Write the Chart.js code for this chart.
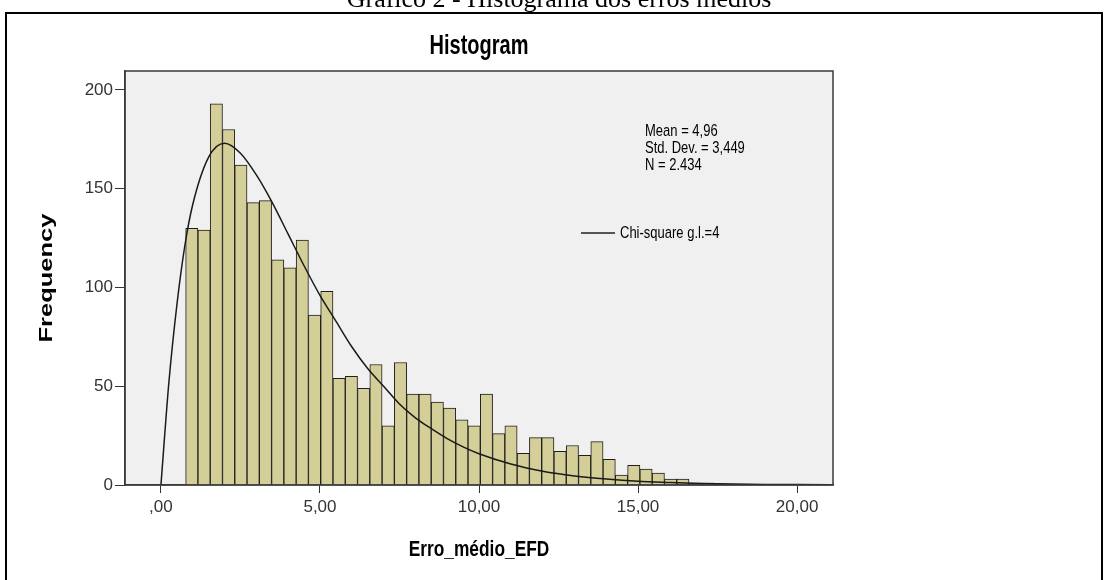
<!DOCTYPE html>
<html>
<head>
<meta charset="utf-8">
<script src="https://cdn.jsdelivr.net/npm/chart.js@4.4.1/dist/chart.umd.min.js"></script>
<style>
  html, body { margin: 0; padding: 0; background: #fff; }
  canvas { display: block; }
</style>
</head>
<body>
<canvas id="chart" width="1107" height="580"></canvas>
<script>
const caption = 'Gráfico 2 - Histograma dos erros médios';
const chartTitle = 'Histogram';
const xTitle = 'Erro_médio_EFD';
const yTitle = 'Frequency';
const statLines = ['Mean = 4,96', 'Std. Dev. = 3,449', 'N = 2.434'];
const curveLabel = 'Chi-square g.l.=4';

// bin centres (Erro_médio_EFD) and counts
const binCenters = [
  0.970, 1.356, 1.742, 2.128, 2.514, 2.900, 3.286, 3.672, 4.058, 4.444,
  4.830, 5.216, 5.602, 5.988, 6.374, 6.760, 7.146, 7.532, 7.918, 8.304,
  8.690, 9.076, 9.462, 9.848, 10.234, 10.620, 11.006, 11.392, 11.778, 12.164,
  12.550, 12.936, 13.322, 13.708, 14.094, 14.480, 14.866, 15.252, 15.638, 16.024,
  16.410, 16.796, 17.182
];
const binCounts = [
  130, 129, 193, 180, 162, 143, 144, 114, 110, 124,
  86, 98, 54, 55, 49, 61, 30, 62, 46, 46,
  42, 39, 33, 30, 46, 26, 30, 16, 24, 24,
  17, 20, 15, 22, 13, 5, 10, 8, 6, 3,
  3, 1, 1
];

// fitted chi-square curve
const curveX = [0, 0.25, 0.5, 0.75, 1, 1.5, 2, 2.5, 3, 3.5, 4, 4.5, 5, 5.5, 6, 6.5, 7, 7.5,
  8, 8.5, 9, 9.5, 10, 11, 12, 13, 14, 15, 16, 17, 18, 19, 20, 21];
const curveY = [0, 52, 91, 121, 142, 166, 173, 168, 157, 143, 127, 111, 96, 83, 70, 59, 50, 41,
  34, 28.5, 23.5, 19.3, 15.8, 10.6, 7.0, 4.6, 3.0, 1.9, 1.3, 0.8, 0.5, 0.3, 0.2, 0.1];

const xTicks = [0, 5, 10, 15, 20];
const yTicks = [0, 50, 100, 150, 200];

const ctx = document.getElementById('chart').getContext('2d');

const tickFont = { family: '"Liberation Sans", Arial, sans-serif', size: 17 };

// the source picture is stretched vertically, so text is drawn taller than wide
function tallText(ctx, text, x, y, sx, sy) {
  ctx.save();
  ctx.translate(x, y);
  ctx.scale(sx, sy);
  ctx.fillText(text, 0, 0);
  ctx.restore();
}

const spssFrame = {
  id: 'spssFrame',
  beforeDraw(chart) {

    const { ctx, chartArea: a } = chart;

    ctx.save();
    ctx.fillStyle = '#fff';
    ctx.fillRect(0, 0, chart.width, chart.height);

    // caption of the figure, cut at the top edge
    ctx.fillStyle = '#000';
    ctx.font = '26px "Liberation Serif", "Times New Roman", serif';
    ctx.textAlign = 'center';
    ctx.textBaseline = 'alphabetic';
    ctx.fillText(caption, 559, 7);

    // outer frame
    ctx.strokeStyle = '#000';
    ctx.lineWidth = 2;
    ctx.strokeRect(6, 13, 1096, 620);

    // plot background
    ctx.fillStyle = '#f0f0f0';
    ctx.fillRect(a.left, a.top, a.right - a.left, a.bottom - a.top);
    ctx.restore();

  },
  afterDraw(chart) {

    const { ctx, chartArea: a } = chart;
    const cx = (a.left + a.right) / 2;

    ctx.save();
    ctx.strokeStyle = '#3a3a3a';
    ctx.lineWidth = 1.5;
    ctx.strokeRect(a.left, a.top, a.right - a.left, a.bottom - a.top);

    ctx.fillStyle = '#000';
    ctx.textAlign = 'center';
    ctx.textBaseline = 'middle';
    ctx.font = 'bold 20px "Liberation Sans", Arial, sans-serif';
    tallText(ctx, chartTitle, cx, 47, 1, 1.35);

    ctx.font = 'bold 17px "Liberation Sans", Arial, sans-serif';
    tallText(ctx, xTitle, cx, 550, 1.02, 1.35);

    ctx.save();
    ctx.translate(47, (a.top + a.bottom) / 2);
    ctx.rotate(-Math.PI / 2);
    tallText(ctx, yTitle, 0, 0, 1.5, 1.1);
    ctx.restore();

    // stats box
    ctx.textAlign = 'left';
    ctx.font = '13px "Liberation Sans", Arial, sans-serif';
    statLines.forEach((t, i) => tallText(ctx, t, 645, 131 + i * 17, 1, 1.3));

    // curve legend
    ctx.strokeStyle = '#222';
    ctx.lineWidth = 1.5;
    ctx.beginPath();
    ctx.moveTo(581, 233);
    ctx.lineTo(615, 233);
    ctx.stroke();
    tallText(ctx, curveLabel, 620, 233, 1, 1.3);
    ctx.restore();

  }
};

const data = {
  datasets: [{
    type: 'line',
    label: curveLabel,
    data: curveX.map((x, i) => ({ x, y: curveY[i] })),
    borderColor: '#1a1a1a',
    borderWidth: 1.5,
    pointRadius: 0,
    cubicInterpolationMode: 'monotone',
    fill: false,
    order: 0
  }, {
    type: 'bar',
    label: xTitle,
    data: binCenters.map((x, i) => ({ x, y: binCounts[i] })),
    backgroundColor: '#d4cf98',
    borderColor: '#1e1e1e',
    borderWidth: 1,
    barPercentage: 1,
    categoryPercentage: 1,
    order: 1
  }]
};

new Chart(ctx, {
  type: 'bar',
  data,
  options: {
    responsive: false,
    animation: false,
    devicePixelRatio: 1,
    layout: {
      padding: { left: 65, right: 274, top: 71, bottom: 55 }
    },
    scales: {
      x: {
        type: 'linear',
        min: -1.13,
        max: 21.13,
        offset: false,
        afterBuildTicks: scale => {
          scale.ticks = xTicks.map(v => ({ value: v }));
        },
        afterFit: scale => {
          scale.height = 40;
        },
        ticks: {
          autoSkip: false,
          maxRotation: 0,
          padding: 4,
          color: '#333',
          font: tickFont,
          callback: v => v === 0 ? ',00' : v.toFixed(2).replace('.', ',')
        },
        grid: {
          offset: false,
          drawOnChartArea: false,
          drawTicks: true,
          tickLength: 8,
          color: '#333'
        },
        border: { display: true, color: '#3a3a3a', width: 1.5 }
      },
      y: {
        min: 0,
        max: 209.6,
        afterBuildTicks: scale => {
          scale.ticks = yTicks.map(v => ({ value: v }));
        },
        afterFit: scale => {
          scale.width = 60;
        },
        ticks: {
          padding: 2,
          color: '#333',
          font: tickFont
        },
        grid: {
          drawOnChartArea: false,
          drawTicks: true,
          tickLength: 10,
          color: '#333'
        },
        border: { display: true, color: '#3a3a3a', width: 1.5 }
      }
    },
    plugins: {
      legend: { display: false },
      tooltip: { enabled: false },
      title: { display: false }
    }
  },
  plugins: [spssFrame]
});
</script>
</body>
</html>
